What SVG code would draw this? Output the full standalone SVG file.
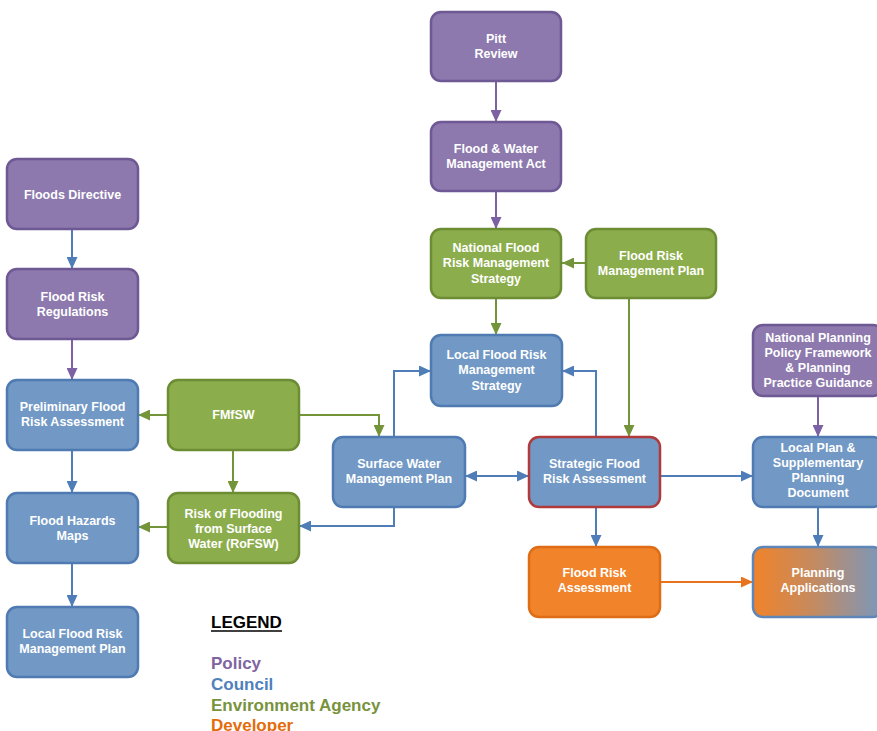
<svg xmlns="http://www.w3.org/2000/svg" width="877" height="731" viewBox="0 0 877 731">
<defs>
<style>
.n rect{stroke-width:2.5}
.p rect{fill:#8D79AE;stroke:#6E5994}
.b rect{fill:#7298C5;stroke:#4F7BB2}
.g rect{fill:#8CAD4C;stroke:#6D8D35}
.o rect{fill:#F1832A;stroke:#DE6D16}
.n text{font-family:"Liberation Sans",Arial,sans-serif;font-weight:bold;font-size:12.5px;fill:#FFFFFF;text-anchor:middle}
.c path{fill:none;stroke-width:2}
.cp{stroke:#7C62A5}
.cb{stroke:#4F7DB8}
.cg{stroke:#74943A}
.co{stroke:#E8731C}
.lg{font-family:"Liberation Sans",Arial,sans-serif;font-weight:bold;font-size:17px}
</style>
<marker id="ap" markerUnits="userSpaceOnUse" markerWidth="12" markerHeight="11" refX="12" refY="5.5" orient="auto-start-reverse"><path d="M0,0 L12,5.5 L0,11 z" fill="#7C62A5"/></marker>
<marker id="ab" markerUnits="userSpaceOnUse" markerWidth="12" markerHeight="11" refX="12" refY="5.5" orient="auto-start-reverse"><path d="M0,0 L12,5.5 L0,11 z" fill="#4F7DB8"/></marker>
<marker id="ag" markerUnits="userSpaceOnUse" markerWidth="12" markerHeight="11" refX="12" refY="5.5" orient="auto-start-reverse"><path d="M0,0 L12,5.5 L0,11 z" fill="#74943A"/></marker>
<marker id="ao" markerUnits="userSpaceOnUse" markerWidth="12" markerHeight="11" refX="12" refY="5.5" orient="auto-start-reverse"><path d="M0,0 L12,5.5 L0,11 z" fill="#E8731C"/></marker>
<linearGradient id="pa" x1="0" y1="0" x2="1" y2="0">
<stop offset="0" stop-color="#F1832A"/>
<stop offset="0.45" stop-color="#C68A5E"/>
<stop offset="1" stop-color="#7898BE"/>
</linearGradient>
</defs>
<rect width="877" height="731" fill="#FFFFFF"/>

<g id="connectors" class="c">
<path class="cp" d="M496,82 V122" marker-end="url(#ap)"/>
<path class="cp" d="M496,192 V229" marker-end="url(#ap)"/>
<path class="cb" d="M72,229 V269" marker-end="url(#ab)"/>
<path class="cp" d="M72,339 V380" marker-end="url(#ap)"/>
<path class="cb" d="M72,450 V493" marker-end="url(#ab)"/>
<path class="cb" d="M72,563 V607" marker-end="url(#ab)"/>
<path class="cg" d="M168,415 H138" marker-end="url(#ag)"/>
<path class="cg" d="M233,450 V493" marker-end="url(#ag)"/>
<path class="cg" d="M168,527 H138" marker-end="url(#ag)"/>
<path class="cg" d="M299,415 H379 V437" marker-end="url(#ag)"/>
<path class="cb" d="M394,437 V371 H431" marker-end="url(#ab)"/>
<path class="cb" d="M596,437 V371 H562" marker-end="url(#ab)"/>
<path class="cb" d="M465,476 H529" marker-start="url(#ab)" marker-end="url(#ab)"/>
<path class="cb" d="M394,507 V526 H299" marker-end="url(#ab)"/>
<path class="cg" d="M586,263 H562" marker-end="url(#ag)"/>
<path class="cg" d="M496,298 V335" marker-end="url(#ag)"/>
<path class="cg" d="M629,298 V437" marker-end="url(#ag)"/>
<path class="cb" d="M660,476 H753" marker-end="url(#ab)"/>
<path class="cp" d="M818,396 V437" marker-end="url(#ap)"/>
<path class="cb" d="M818,507 V547" marker-end="url(#ab)"/>
<path class="cb" d="M596,507 V547" marker-end="url(#ab)"/>
<path class="co" d="M660,582 H753" marker-end="url(#ao)"/>
</g>

<g id="pitt-review" class="n p"><rect x="431" y="12" width="130" height="69" rx="10"/><text x="496" y="42.5">Pitt</text><text x="496" y="57.5">Review</text></g>
<g id="fwma" class="n p"><rect x="431" y="122" width="130" height="69" rx="10"/><text x="496" y="152.5">Flood &amp; Water</text><text x="496" y="167.5">Management Act</text></g>
<g id="nfrms" class="n g"><rect x="431" y="229" width="130" height="69" rx="10"/><text x="496" y="251.5">National Flood</text><text x="496" y="267">Risk Management</text><text x="496" y="282.5">Strategy</text></g>
<g id="frmp" class="n g"><rect x="586" y="229" width="130" height="69" rx="10"/><text x="651" y="259.5">Flood Risk</text><text x="651" y="275">Management Plan</text></g>
<g id="floods-directive" class="n p"><rect x="7" y="159" width="131" height="70" rx="10"/><text x="72.5" y="198.5">Floods Directive</text></g>
<g id="frr" class="n p"><rect x="7" y="269" width="131" height="70" rx="10"/><text x="72.5" y="300.5">Flood Risk</text><text x="72.5" y="315.5">Regulations</text></g>
<g id="pfra" class="n b"><rect x="7" y="380" width="131" height="70" rx="10"/><text x="72.5" y="410.5">Preliminary Flood</text><text x="72.5" y="426">Risk Assessment</text></g>
<g id="fhm" class="n b"><rect x="7" y="493" width="131" height="70" rx="10"/><text x="72.5" y="524.5">Flood Hazards</text><text x="72.5" y="539.5">Maps</text></g>
<g id="lfrmp" class="n b"><rect x="7" y="607" width="131" height="70" rx="10"/><text x="72.5" y="637.5">Local Flood Risk</text><text x="72.5" y="652.5">Management Plan</text></g>
<g id="fmfsw" class="n g"><rect x="168" y="380" width="131" height="70" rx="10"/><text x="233.5" y="418.5">FMfSW</text></g>
<g id="rofsw" class="n g"><rect x="168" y="493" width="131" height="70" rx="10"/><text x="233.5" y="517.5">Risk of Flooding</text><text x="233.5" y="532.5">from Surface</text><text x="233.5" y="547.5">Water (RoFSW)</text></g>
<g id="lfrms" class="n b"><rect x="431" y="335" width="131" height="71" rx="10"/><text x="496.5" y="358.5">Local Flood Risk</text><text x="496.5" y="374">Management</text><text x="496.5" y="389.5">Strategy</text></g>
<g id="swmp" class="n b"><rect x="333" y="437" width="132" height="70" rx="10"/><text x="399" y="467.5">Surface Water</text><text x="399" y="483">Management Plan</text></g>
<g id="sfra" class="n b"><rect x="529" y="437" width="131" height="70" rx="10" style="stroke:#B03B3C"/><text x="594.5" y="467.5">Strategic Flood</text><text x="594.5" y="483">Risk Assessment</text></g>
<g id="nppf" class="n p"><rect x="753" y="325" width="130" height="71" rx="10"/><text x="818" y="341.5">National Planning</text><text x="818" y="356.5">Policy Framework</text><text x="818" y="371.5">&amp; Planning</text><text x="818" y="386.5">Practice Guidance</text></g>
<g id="local-plan" class="n b"><rect x="753" y="437" width="130" height="70" rx="10"/><text x="818" y="451.5">Local Plan &amp;</text><text x="818" y="467">Supplementary</text><text x="818" y="482">Planning</text><text x="818" y="497">Document</text></g>
<g id="fra" class="n o"><rect x="529" y="547" width="131" height="70" rx="10"/><text x="594.5" y="576.5">Flood Risk</text><text x="594.5" y="592">Assessment</text></g>
<g id="planning-applications" class="n"><rect x="753" y="547" width="130" height="70" rx="10" style="fill:url(#pa);stroke:#5E86B8"/><text x="818" y="576.5">Planning</text><text x="818" y="592">Applications</text></g>

<g id="legend">
<text class="lg" x="211" y="628" fill="#000000">LEGEND</text>
<line x1="211" y1="631" x2="282" y2="631" stroke="#000000" stroke-width="1.6"/>
<text class="lg" x="211" y="669" fill="#8064A2">Policy</text>
<text class="lg" x="211" y="690" fill="#4F81BD">Council</text>
<text class="lg" x="211" y="710.5" fill="#77933C">Environment Agency</text>
<text class="lg" x="211" y="731" fill="#E46C0A">Developer</text>
</g>
</svg>
